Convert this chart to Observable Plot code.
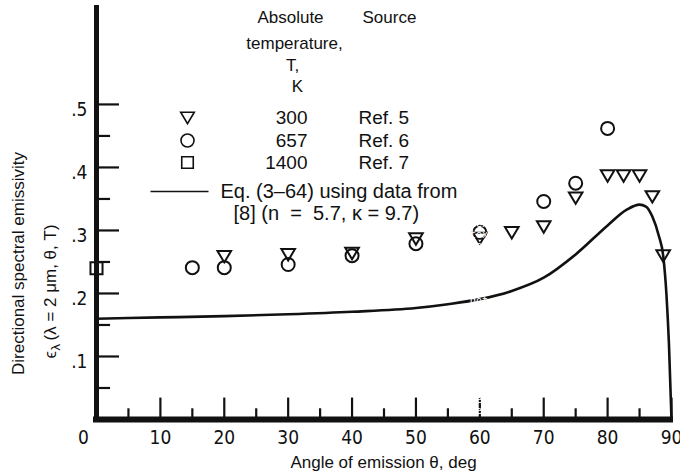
<!DOCTYPE html>
<html><head><meta charset="utf-8">
<script src="https://cdn.jsdelivr.net/npm/d3@7"></script>
<script src="https://cdn.jsdelivr.net/npm/@observablehq/plot@0.6"></script>
<style>
body{margin:0;background:#fff}
svg{display:block}
#info{position:absolute;left:470px;top:20px;font:10px monospace;color:#fff;width:180px;white-space:pre-wrap}
</style>
</head><body><div id="chart"></div><div id="info"></div>
<script>
// ---- data ----
const xTicksMajor = [10, 20, 30, 40, 50, 60, 70, 80, 90];
const xTicksMinor = [5, 15, 25, 35, 45, 55, 65, 75, 85];
const yTicksMajor = [0.1, 0.2, 0.3, 0.4, 0.5];
const yTicksMinor = [0.05, 0.15, 0.25, 0.35, 0.45];

// Ref. 5, T = 300 K (triangles)
const t300Angle = [20, 30, 40, 50, 60, 65, 70, 75, 80, 82.5, 85, 87, 88.7];
const t300Emiss = [0.259, 0.262, 0.264, 0.287, 0.288, 0.297, 0.306, 0.352, 0.387, 0.387, 0.387, 0.354, 0.26];
// Ref. 6, T = 657 K (circles)
const t657Angle = [15, 20, 30, 40, 50, 60, 70, 75, 80];
const t657Emiss = [0.241, 0.241, 0.246, 0.26, 0.279, 0.297, 0.346, 0.375, 0.462];
// Ref. 7, T = 1400 K (square)
const t1400Angle = [0];
const t1400Emiss = [0.24];
// Eq. (3-64) curve
const eqAngle = [0, 10, 20, 30, 40, 50, 55, 60, 65, 70, 75, 80, 83, 85, 86, 87, 88, 88.7, 89.2, 89.6, 90];
const eqEmiss = [0.160, 0.162, 0.164, 0.167, 0.171, 0.177, 0.183, 0.191, 0.204, 0.225, 0.262, 0.308, 0.333, 0.341, 0.338, 0.322, 0.292, 0.26, 0.2, 0.12, 0.0];

const legendTemps = ["300", "657", "1400"];
const legendRefs = ["Ref. 5", "Ref. 6", "Ref. 7"];

const zip = (a, b) => a.map((v, i) => ({x: v, y: b[i]}));

const triDown = {
  draw(ctx, size) {
    const r = Math.sqrt(size / Math.PI);
    ctx.moveTo(-r, -r * 0.78);
    ctx.lineTo(r, -r * 0.78);
    ctx.lineTo(0, r * 0.9);
    ctx.closePath();
  }
};
const seg = (x0, y0, x1, y1) => ({draw(ctx) { ctx.moveTo(x0, y0); ctx.lineTo(x1, y1); }});

const ML = 96, MT = 5;
const ink = "#111";
const tickFont = "'Liberation Sans Narrow', 'DejaVu Sans Condensed', 'Liberation Sans', sans-serif";
const note = (s, px, py, opts = {}) => Plot.text([s], {
  text: d => d, frameAnchor: "top-left", dx: px - ML, dy: py - MT,
  lineAnchor: "middle", fontSize: 17, fill: ink, ...opts
});
const sym = (symbol, r, px, py, sw = 1.6) => Plot.dot([0], {
  frameAnchor: "top-left", dx: px - ML, dy: py - MT, symbol, r,
  stroke: ink, strokeWidth: sw, fill: "none"
});
const rowY = [117, 140, 162];

let info = "";
try {
const plot = Plot.plot({
  width: 680,
  height: 476,
  marginLeft: ML,
  marginRight: 9,
  marginTop: MT,
  marginBottom: 57,
  x: {domain: [0, 90]},
  y: {domain: [0, 0.657]},
  style: {fontFamily: "'Liberation Sans', Arial, sans-serif", color: ink, background: "#fff"},
  marks: [
    Plot.ruleY(yTicksMajor, {y: d => d, x1: 0, x2: 3.6, strokeWidth: 2.2, stroke: ink}),
    Plot.ruleY(yTicksMinor, {y: d => d, x1: 0, x2: 2.2, strokeWidth: 2.2, stroke: ink}),
    Plot.ruleX(xTicksMajor, {x: d => d, y1: 0, y2: 0.034, strokeWidth: 2.2, stroke: ink}),
    Plot.ruleX(xTicksMinor, {x: d => d, y1: 0, y2: 0.017, strokeWidth: 2.2, stroke: ink}),
    Plot.ruleX([0], {strokeWidth: 5, stroke: ink, insetBottom: -3}),
    Plot.ruleY([0], {x1: 0, x2: 90, strokeWidth: 6, stroke: ink, insetLeft: -3, insetRight: -2}),
    Plot.axisX(xTicksMajor, {tickSize: 0, tickPadding: 11, fontSize: 19, fontFamily: tickFont, label: null}),
    Plot.axisX([0], {tickSize: 0, tickPadding: 11, dx: -13, fontSize: 19, fontFamily: tickFont, label: null}),
    Plot.axisY(yTicksMajor, {tickSize: 0, tickPadding: 9, dy: 5, fontSize: 19, fontFamily: tickFont, label: null,
      tickFormat: d => String(d).replace(/^0/, "")}),
    Plot.line(zip(eqAngle, eqEmiss), {x: "x", y: "y", curve: "monotone-x", strokeWidth: 2.6, stroke: ink}),
    Plot.dot(zip(t657Angle, t657Emiss), {x: "x", y: "y", r: 6.5, symbol: "circle", stroke: ink, strokeWidth: 2, fill: "none"}),
    Plot.dot(zip(t300Angle, t300Emiss), {x: "x", y: "y", r: 6.8, symbol: triDown, stroke: ink, strokeWidth: 2, fill: "none"}),
    Plot.dot(zip(t1400Angle, t1400Emiss), {x: "x", y: "y", r: 6.8, symbol: "square", stroke: ink, strokeWidth: 2, fill: "none"}),

    note("Angle of emission θ, deg", 383, 462, {textAnchor: "middle"}),
    note("Directional spectral emissivity", 18, 263, {textAnchor: "middle", rotate: -90}),
    note("ϵ", 50, 358, {textAnchor: "start", rotate: -90}),
    note("λ", 55, 350, {textAnchor: "start", rotate: -90, fontSize: 13}),
    note("(λ = 2 μm, θ, T)", 50, 340, {textAnchor: "start", rotate: -90}),

    note("Absolute", 290, 17, {textAnchor: "middle"}),
    note("temperature,", 294, 43, {textAnchor: "middle"}),
    note("T,", 292, 65, {textAnchor: "middle"}),
    note("K", 297, 86, {textAnchor: "middle"}),
    note("Source", 362, 17, {textAnchor: "start"}),

    sym(triDown, 6.8, 187, rowY[0]),
    sym("circle", 6.5, 187, rowY[1]),
    sym("square", 6.5, 187, rowY[2]),
    ...legendTemps.map((s, i) => note(s, 307, rowY[i], {textAnchor: "end", fontSize: 19})),
    ...legendRefs.map((s, i) => note(s, 358, rowY[i], {textAnchor: "start", fontSize: 19})),
    sym(seg(-29, 0, 29, 0), 1, 179, 191),
    note("Eq. (3–64) using data from", 220, 191, {textAnchor: "start", fontSize: 20}),
    note("[8] (n  =  5.7, κ = 9.7)", 233, 213, {textAnchor: "start", fontSize: 20})
  ]
});
document.getElementById("chart").appendChild(plot);
info += "lines " + plot.querySelectorAll("line").length + "\n";
plot.querySelectorAll("g[aria-label]").forEach(gg => { info += gg.getAttribute("aria-label") + "\n"; });
} catch (e) { info += "ERR " + e.message; }
document.getElementById("info").textContent = info;
</script>
</body></html>
